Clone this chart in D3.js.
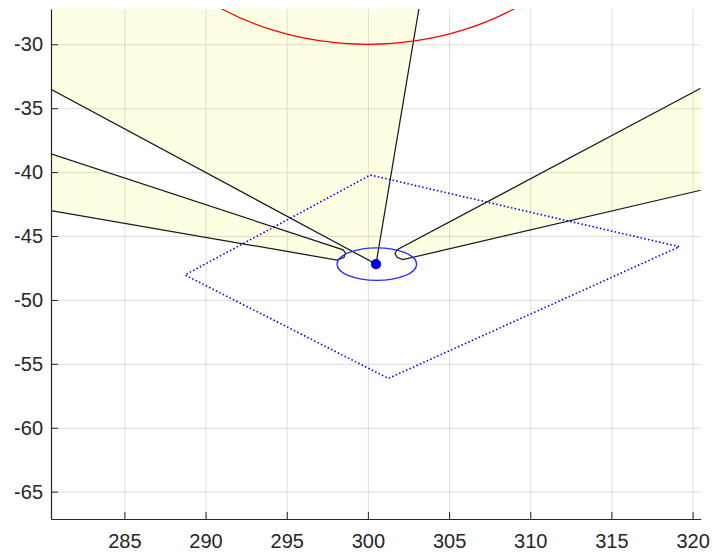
<!DOCTYPE html>
<html>
<head>
<meta charset="utf-8">
<script src="https://cdn.jsdelivr.net/npm/d3@7"></script>
<style>
    html, body { margin: 0; padding: 0; background: #fff; }
    svg { display: block; }
    .tick text { font-family: "Liberation Sans", Arial, sans-serif; font-size: 20px; fill: #262626; }
</style>
</head>
<body>
<svg id="chart" width="713" height="559"></svg>
<script>
// Axis limits and ticks
const xLimits = [280.48, 320.5];
const yLimits = [-67.14, -27.24];
const xTicks = [285, 290, 295, 300, 305, 310, 315, 320];
const yTicks = [-65, -60, -55, -50, -45, -40, -35, -30];

// Beam edges (outline points, data units)
const upperBeam = [[280.48, -33.52], [300.5, -47.2], [303.14, -27.24]];
const upperBeamCorner = [[280.48, -27.24]];
const leftBeam = [[280.48, -38.58], [298.48, -46.08], [298.62, -46.35], [298.52, -46.68], [298.1, -46.88], [280.48, -43.02]];
const rightBeam = [[320.5, -33.44], [301.8, -46.08], [301.67, -46.37], [301.8, -46.66], [302.15, -46.85], [320.5, -41.42]];

// Dotted search area
const searchArea = [[300.15, -40.23], [319.18, -45.84], [301.26, -56.14], [288.73, -48.05], [300.15, -40.23]];

// Target, its error ellipse and the range circle
const target = [300.5, -47.2];
const errorEllipse = { cx: 300.55, cy: -47.2, rx: 2.45, ry: 1.27 };
const rangeCircle = { cx: 300, cy: -14, r: 16 };

const margin = { left: 51, right: 12.3, top: 9, bottom: 40 };
const W = 713, H = 559;
const plotW = W - margin.left - margin.right;
const plotH = H - margin.top - margin.bottom;

const svg = d3.select('#chart');
const g = svg.append('g').attr('transform', `translate(${margin.left},${margin.top})`);

const x = d3.scaleLinear().domain(xLimits).range([0, plotW]);
const y = d3.scaleLinear().domain(yLimits).range([plotH, 0]);

svg.append('defs').append('clipPath').attr('id', 'plot-clip')
    .append('rect').attr('width', plotW).attr('height', plotH);

const line = d3.line().x(d => x(d[0])).y(d => y(d[1]));

const fillColor = '#ffffe3';
const edgeColor = '#1a1a1a';

// Filled beams
const fills = g.append('g').attr('clip-path', 'url(#plot-clip)');
fills.append('path')
    .attr('d', line(upperBeam.concat(upperBeamCorner)) + 'Z')
    .attr('fill', fillColor);
fills.append('path')
    .attr('d', line(leftBeam) + 'Z')
    .attr('fill', fillColor);
fills.append('path')
    .attr('d', line(rightBeam) + 'Z')
    .attr('fill', fillColor);

// Grid
const grid = g.append('g').attr('class', 'grid');
grid.append('g')
    .attr('transform', `translate(0,${plotH})`)
    .call(d3.axisBottom(x).tickValues(xTicks).tickSize(-plotH).tickFormat(''))
    .call(s => s.select('.domain').remove());
grid.append('g')
    .call(d3.axisLeft(y).tickValues(yTicks).tickSize(-plotW).tickFormat(''))
    .call(s => s.select('.domain').remove());
grid.selectAll('line').attr('stroke', 'rgba(38,38,38,0.15)');

// Lines
const marks = g.append('g').attr('clip-path', 'url(#plot-clip)');
[upperBeam, leftBeam, rightBeam].forEach(pts => {
    marks.append('path')
        .attr('d', line(pts))
        .attr('fill', 'none')
        .attr('stroke', edgeColor)
        .attr('stroke-width', 1.25);
});

marks.append('ellipse')
    .attr('cx', x(rangeCircle.cx))
    .attr('cy', y(rangeCircle.cy))
    .attr('rx', x(rangeCircle.cx + rangeCircle.r) - x(rangeCircle.cx))
    .attr('ry', y(rangeCircle.cy - rangeCircle.r) - y(rangeCircle.cy))
    .attr('fill', 'none')
    .attr('stroke', '#ff0000')
    .attr('stroke-width', 1.2);

marks.append('path')
    .attr('d', line(searchArea))
    .attr('fill', 'none')
    .attr('stroke', '#0000ff')
    .attr('stroke-width', 1.6)
    .attr('stroke-dasharray', '1.5,2.3');

marks.append('ellipse')
    .attr('cx', x(errorEllipse.cx))
    .attr('cy', y(errorEllipse.cy))
    .attr('rx', x(errorEllipse.cx + errorEllipse.rx) - x(errorEllipse.cx))
    .attr('ry', y(errorEllipse.cy - errorEllipse.ry) - y(errorEllipse.cy))
    .attr('fill', 'none')
    .attr('stroke', '#2b2bff')
    .attr('stroke-width', 1.4);

marks.append('circle')
    .attr('cx', x(target[0]))
    .attr('cy', y(target[1]))
    .attr('r', 4.8)
    .attr('fill', '#0000e6')
    .attr('stroke', '#0000b0')
    .attr('stroke-width', 0.8);

// Axes (ticks pointing inward, no box)
const xAxis = g.append('g')
    .attr('transform', `translate(0,${plotH})`)
    .call(d3.axisBottom(x).tickValues(xTicks).tickSizeInner(-7).tickSizeOuter(0).tickPadding(15).tickFormat(d3.format('d')));
const yAxis = g.append('g')
    .call(d3.axisLeft(y).tickValues(yTicks).tickSizeInner(-7).tickSizeOuter(0).tickPadding(8).tickFormat(d3.format('d')));
[xAxis, yAxis].forEach(a => {
    a.select('.domain').attr('stroke', '#262626').attr('stroke-width', 1.2);
    a.selectAll('.tick line').attr('stroke', '#262626');
    a.attr('font-family', null).attr('font-size', null);
});
yAxis.selectAll('.tick text').text(d => d3.format('d')(d).replace('\u2212', '-'));
</script>
</body>
</html>
